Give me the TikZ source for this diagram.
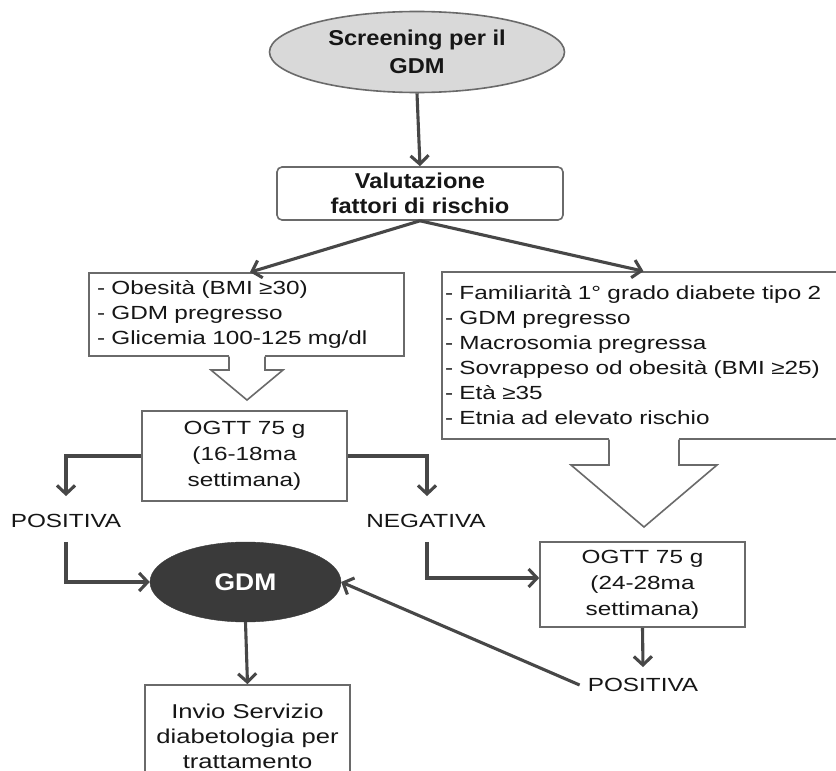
\documentclass[tikz,border=0pt]{standalone}
\usepackage{fontspec}
\setmainfont{Liberation Sans}[FakeStretch=1.28]
\newfontfamily\bfam{Liberation Sans}[FakeStretch=1.1]
\usetikzlibrary{arrows.meta,shapes.geometric}
\definecolor{linec}{HTML}{474747}
\definecolor{boxc}{HTML}{6A6A6A}
\definecolor{textc}{HTML}{161616}
\definecolor{ellc}{HTML}{D9D9D9}
\definecolor{gdmc}{HTML}{3A3A3A}
\tikzset{
  conn/.style={line width=3.1pt, draw=linec, -{Straight Barb[length=8.5pt,width=18pt]}},
  boxn/.style={draw=boxc, line width=1.6pt, fill=white, inner sep=0pt, text=textc, align=center,
    font=\fontsize{19}{26}\selectfont},
  listn/.style={draw=boxc, line width=1.6pt, fill=white, inner ysep=0pt, text=textc, align=left,
    font=\fontsize{19}{25}\selectfont},
  lbl/.style={inner sep=0pt, text=textc, font=\fontsize{19}{25}\selectfont},
  hollow/.style={draw=boxc, line width=1.6pt, fill=white, line join=miter},
}
\begin{document}
\begin{tikzpicture}[x=1pt,y=-1pt]
\fill[white] (0,0) rectangle (836,771);
\useasboundingbox (0,0) rectangle (836,771);

% top ellipse
\node[ellipse, draw=boxc, line width=1.6pt, fill=ellc, minimum width=295pt, minimum height=81pt,
  inner sep=0pt, align=center, text=textc, font=\bfam\bfseries\fontsize{21.5}{28}\selectfont]
  (scr) at (417,52) {Screening per il\\GDM};

% valutazione
\node[boxn, rounded corners=5pt, minimum width=286pt, minimum height=53pt,
  font=\bfam\bfseries\fontsize{21.5}{25}\selectfont] (val) at (420,193.5) {Valutazione\\fattori di rischio};

% left list box
\node[listn, inner xsep=8pt, text width=299pt, minimum height=83pt] (lbox) at (246.5,314.5)
  {- Obesità (BMI ≥30)\\- GDM pregresso\\- Glicemia 100-125 mg/dl};

% right list box
\node[listn, inner xsep=3pt, text width=397pt, minimum height=167pt] (rbox) at (643.5,355.5)
  {- Familiarità 1° grado diabete tipo 2\\- GDM pregresso\\- Macrosomia pregressa\\- Sovrappeso od obesità (BMI ≥25)\\- Età ≥35\\- Etnia ad elevato rischio};

% hollow arrows
\fill[white] (229,355) rectangle (265,371);
\draw[hollow] (229,356.5) -- (229,370) -- (211,370) -- (247,400) -- (283,370) -- (265,370) -- (265,356.5);
\fill[white] (609,438) rectangle (679,466);
\draw[hollow] (609,439.5) -- (609,465) -- (571,465) -- (644,527) -- (717,465) -- (679,465) -- (679,439.5);

% OGTT boxes
\node[boxn, minimum width=205pt, minimum height=90pt] (ogtt1) at (244.5,456)
  {OGTT 75 g\\(16-18ma\\settimana)};
\node[boxn, minimum width=205pt, minimum height=85pt] (ogtt2) at (642.5,584.5)
  {OGTT 75 g\\(24-28ma\\settimana)};

% labels
\node[lbl] (pos1) at (66,521) {POSITIVA};
\node[lbl] (neg) at (426,521) {NEGATIVA};
\node[lbl] (pos2) at (643,685) {POSITIVA};

% GDM ellipse
\node[ellipse, fill=gdmc, draw=gdmc, minimum width=191pt, minimum height=80pt, inner sep=0pt,
  text=white, font=\bfam\bfseries\fontsize{24}{26}\selectfont] (gdm) at (245.5,582) {GDM};

% bottom box
\node[boxn, minimum width=205pt, minimum height=102pt, font=\fontsize{20}{25}\selectfont]
  (inv) at (247.5,736) {Invio Servizio\\diabetologia per\\trattamento};

% connectors
\draw[conn] (scr.south) -- (val.north);
\draw[conn] (val.south) -- ([xshift=3.5pt]lbox.north);
\draw[conn] (val.south) -- (rbox.north);
\draw[conn] (ogtt1.west) -| ([yshift=18pt]pos1.north);
\draw[conn] (ogtt1.east) -| ([xshift=1pt,yshift=18pt]neg.north);
\draw[conn] ([yshift=-14pt]pos1.south) |- (gdm.west);
\draw[conn] ([xshift=1pt,yshift=-14pt]neg.south) |- ([yshift=6.5pt]ogtt2.west);
\draw[conn] (ogtt2.south) -- ([yshift=11pt]pos2.north);
\draw[conn] ([xshift=-8pt]pos2.west) -- (gdm.east);
\draw[conn] (gdm.south) -- (inv.north);
\end{tikzpicture}
\end{document}
